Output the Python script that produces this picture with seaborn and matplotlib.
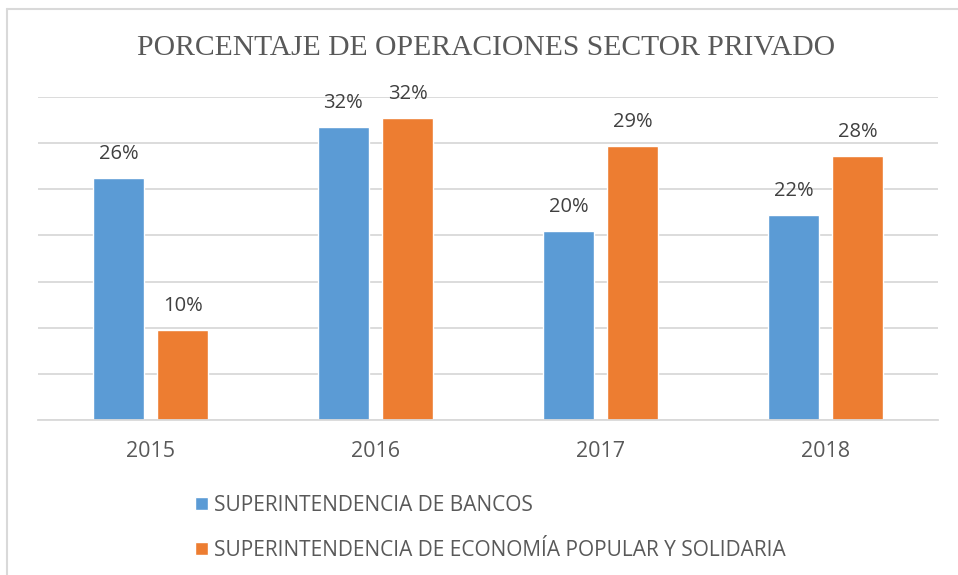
import matplotlib
matplotlib.use("Agg")
import matplotlib.pyplot as plt
import seaborn as sns
import pandas as pd
from matplotlib.lines import Line2D

years = ["2015", "2016", "2017", "2018"]
series_names = ["SUPERINTENDENCIA DE BANCOS",
                "SUPERINTENDENCIA DE ECONOMÍA POPULAR Y SOLIDARIA"]
bancos = [26.2, 31.8, 20.5, 22.2]
eps = [9.8, 32.7, 29.7, 28.6]
labels_bancos = ["26%", "32%", "20%", "22%"]
labels_eps = ["10%", "32%", "29%", "28%"]
colors = ["#5B9BD5", "#ED7D31"]

df = pd.DataFrame({
    "year": years * 2,
    "serie": [series_names[0]] * 4 + [series_names[1]] * 4,
    "value": bancos + eps,
})

sns.set_theme(style="white")
plt.rcParams["font.family"] = ["Open Sans", "DejaVu Sans"]

fig = plt.figure(figsize=(9.58, 5.75), dpi=100)
W, H = 958, 575
ax = fig.add_axes([38 / W, 1 - 420 / H, 900 / W, (420 - 97) / H])

sns.barplot(data=df, x="year", y="value", hue="serie", order=years,
            hue_order=series_names, palette=colors, width=0.572, gap=0.206,
            saturation=1, ax=ax, legend=True)

ax.set_ylim(0, 35)
ax.set_xlim(-0.5, 3.5)
ax.set_yticks(range(0, 36, 5))
ax.yaxis.grid(True, color="#d9d9d9", linewidth=1.3)
ax.set_axisbelow(True)
ax.tick_params(axis="y", left=False, labelleft=False)
ax.tick_params(axis="x", bottom=False, labelsize=15.5, labelcolor="#595959", pad=9)
ax.set_xlabel("")
ax.set_ylabel("")
for s in ["top", "right", "left"]:
    ax.spines[s].set_visible(False)
ax.spines["bottom"].set_color("#d9d9d9")
ax.spines["bottom"].set_linewidth(1.3)

for cont, labs in zip(ax.containers, [labels_bancos, labels_eps]):
    ax.bar_label(cont, labels=labs, padding=10, fontsize=14.5, color="#404040")

handles, _ = ax.get_legend_handles_labels()
ax.legend(handles=handles, labels=series_names, loc="upper left",
          bbox_to_anchor=(195 / W, 1 - 495 / H), bbox_transform=fig.transFigure,
          frameon=False, fontsize=15, labelcolor="#595959",
          handlelength=0.62, handleheight=0.62, handletextpad=0.3,
          labelspacing=1.15, borderpad=0, borderaxespad=0)

fig.text(486.5 / W, 1 - 48 / H, "PORCENTAJE DE OPERACIONES SECTOR PRIVADO",
         ha="center", va="center", fontsize=21.3, color="#595959",
         family="Liberation Serif")

fig.add_artist(Line2D([7 / W, 1], [1 - 9 / H, 1 - 9 / H], color="#d9d9d9",
                      linewidth=1.5, transform=fig.transFigure))
fig.add_artist(Line2D([7 / W, 7 / W], [0, 1 - 9 / H], color="#d9d9d9",
                      linewidth=1.5, transform=fig.transFigure))

fig.savefig("out.png", dpi=100)
